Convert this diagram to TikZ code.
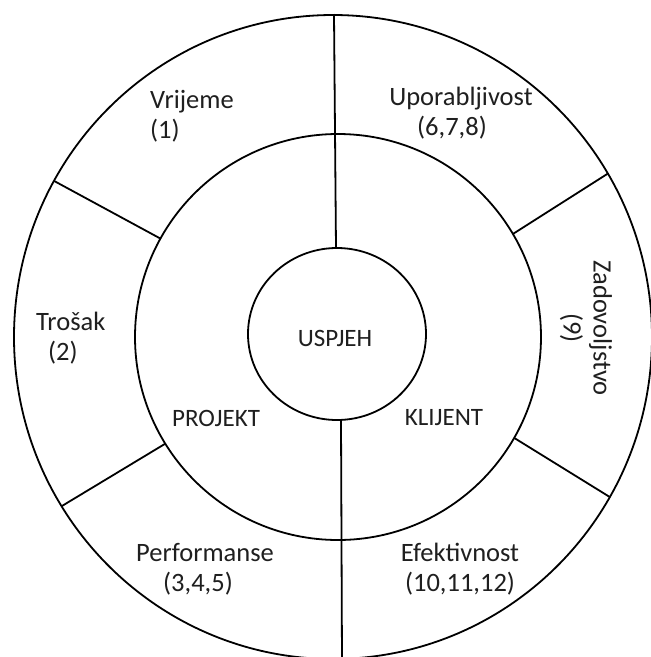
\documentclass[tikz,border=0pt]{standalone}
\usepackage{fontspec}
\setmainfont{Carlito}
\usetikzlibrary{calc}
\begin{document}
\begin{tikzpicture}[x=1pt,y=-1pt,
  ring/.style={draw=black, line width=1.8pt},
  sep/.style={draw=black, line width=1.8pt},
  lbl/.style={font=\fontsize{26.5}{30}\selectfont, inner sep=0pt, text=black!88},
  ilbl/.style={font=\fontsize{25}{30}\selectfont, inner sep=0pt, text=black!88}]
\useasboundingbox (0,0) rectangle (651,657);
\clip (0,0) rectangle (651,657);
\fill[white] (0,0) rectangle (651,657);
% centres (y axis points down, so angles run clockwise)
\coordinate (co) at (333,337);
\coordinate (cm) at (338,337);
\coordinate (ci) at (337,334);
% end points of the separators
\coordinate (t1) at (334,14);  \coordinate (t2) at (336,248);
\coordinate (b1) at (341,420); \coordinate (b2) at (342,662);
\coordinate (ulo) at ($(co)+(-151:319 and 322)$);
\coordinate (uli) at ($(cm)+(-151:203)$);
\coordinate (uro) at ($(co)+(-30.5:319 and 322)$);
\coordinate (uri) at ($(cm)+(-30.5:203)$);
\coordinate (llo) at ($(co)+(148.3:319 and 322)$);
\coordinate (lli) at ($(cm)+(148.3:203)$);
\coordinate (lro) at ($(co)+(29.8:319 and 322)$);
\coordinate (lri) at ($(cm)+(29.8:203)$);
\draw[sep] (t1) -- (t2);
\draw[sep] (b1) -- (b2);
\draw[sep] (ulo) -- (uli);
\draw[sep] (uro) -- (uri);
\draw[sep] (llo) -- (lli);
\draw[sep] (lro) -- (lri);
% rings
\draw[ring] (co) ellipse[x radius=319, y radius=322];
\draw[ring] (cm) circle[radius=203];
\draw[ring] (ci) ellipse[x radius=89, y radius=86];
% labels
\node[lbl, anchor=west, align=left] (vr) at (150,116) {Vrijeme\\(1)};
\node[lbl, align=center] (up) at (461,113) {Uporabljivost\\(6,7,8)\hspace*{18pt}};
\node[lbl, anchor=west, align=left] (tr) at (36,338) {Trošak\\\hspace*{12pt}(2)};
\node[lbl, align=center, rotate=-90] (za) at (586,328) {Zadovoljstvo\\(9)};
\node[ilbl] (us) at (335,338) {USPJEH};
\node[ilbl] (pr) at (216,418) {PROJEKT};
\node[ilbl] (kl) at (444,418) {KLIJENT};
\node[lbl, align=center] (pe) at (205,569) {Performanse\\(3,4,5)\hspace*{14pt}};
\node[lbl, align=center] (ef) at (460,569) {Efektivnost\\(10,11,12)};
\end{tikzpicture}
\end{document}
